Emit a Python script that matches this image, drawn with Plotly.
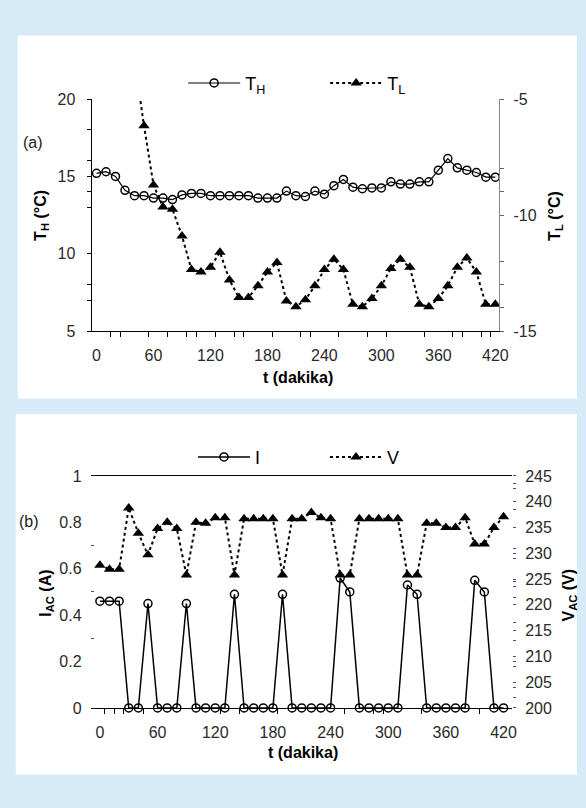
import plotly.graph_objects as go

# ---------------- data ----------------
t_H = list(range(0, 421, 10))
T_H = [15.2, 15.3, 15.0, 14.1, 13.75, 13.75, 13.6, 13.6, 13.5, 13.8,
       13.9, 13.9, 13.75, 13.75, 13.75, 13.75, 13.75, 13.6, 13.6, 13.6,
       14.05, 13.75, 13.7, 14.05, 13.85, 14.4, 14.8, 14.3, 14.2, 14.25,
       14.25, 14.65, 14.5, 14.5, 14.65, 14.65, 15.4, 16.15, 15.55, 15.4,
       15.25, 14.95, 14.95]

t_L = list(range(40, 421, 10))
T_L = [-3.3, -6.15, -8.7, -9.65, -9.75, -10.9, -12.35, -12.45, -12.25, -11.6,
       -12.8, -13.55, -13.55, -13.05, -12.45, -12.05, -13.7, -13.95, -13.65, -13.05,
       -12.35, -11.9, -12.35, -13.85, -13.95, -13.6, -13.05, -12.3, -11.9, -12.25,
       -13.85, -13.95, -13.6, -13.05, -12.25, -11.85, -12.45, -13.85, -13.85]

t_b = list(range(0, 421, 10))
I_AC = [0.46, 0.46, 0.46, 0, 0, 0.45, 0, 0, 0, 0.45,
        0, 0, 0, 0, 0.49, 0, 0, 0, 0, 0.49,
        0, 0, 0, 0, 0, 0.56, 0.50, 0, 0, 0,
        0, 0, 0.53, 0.49, 0, 0, 0, 0, 0, 0.55,
        0.50, 0, 0]
V_AC = [227.7, 226.9, 226.9, 238.8, 233.9, 229.7, 234.8, 236.0, 234.8, 225.8,
        236.0, 235.8, 236.9, 236.9, 225.8, 236.7, 236.7, 236.7, 236.7, 225.8,
        236.7, 236.7, 237.9, 236.9, 236.7, 225.8, 225.8, 236.7, 236.7, 236.7,
        236.7, 236.7, 225.8, 225.8, 235.8, 235.8, 235.0, 235.0, 236.9, 231.8,
        231.8, 235.0, 237.1]

x_ticks = [0, 60, 120, 180, 240, 300, 360, 420]
x_minor_a = [15, 25, 55, 75, 95, 105, 125, 145, 155, 185, 215, 225, 255, 285,
             305, 345, 375, 385, 405, 415]
x_minor_b = [5, 15, 25, 45, 125, 145, 185, 255, 285, 295, 335, 395]
yH_ticks = [5, 10, 15, 20]
yH_minor = [7, 8, 13, 14, 16, 18]
yL_ticks = [-15, -10, -5]
yL_text = ["-15", "-10", "-5"]
yL_minor = [-14, -13, -12, -9, -8]
yI_ticks = [0, 0.2, 0.4, 0.6, 0.8, 1]
yI_text = ["0", "0.2", "0.4", "0.6", "0.8", "1"]
yI_minor = [0.3, 0.5, 0.7]
yV_ticks = list(range(200, 246, 5))
yV_minor = [243.5, 242.5, 238.5, 231, 229, 224.5, 223.5, 221.5, 216.5, 213, 209, 208, 204, 202]

W, H = 586, 808
BG = "rgb(214,234,248)"
FONT = "Liberation Sans, Arial, sans-serif"
TICKC = "#2a2a2a"

def px(x):
    return x / W

def py(y):
    return 1 - y / H

fig = go.Figure()

# ---- panel (a) ----
fig.add_trace(go.Scatter(
    x=t_H, y=T_H, name="T<sub>H</sub>", mode="lines+markers",
    line=dict(color="black", width=1.2),
    marker=dict(symbol="circle-open", size=8, color="black", line=dict(width=1.5)),
    xaxis="x", yaxis="y", legend="legend"))
fig.add_trace(go.Scatter(
    x=t_L, y=T_L, name="T<sub>L</sub>", mode="lines+markers",
    line=dict(color="black", width=2, dash="dot"),
    marker=dict(symbol="triangle-up", size=10, color="black"),
    xaxis="x", yaxis="y2", legend="legend"))

# ---- panel (b) ----
fig.add_trace(go.Scatter(
    x=t_b, y=I_AC, name="I", mode="lines+markers",
    line=dict(color="black", width=1.5),
    marker=dict(symbol="circle-open", size=8, color="black", line=dict(width=1.5)),
    xaxis="x3", yaxis="y3", legend="legend2", cliponaxis=False))
fig.add_trace(go.Scatter(
    x=t_b, y=V_AC, name="V", mode="lines+markers",
    line=dict(color="black", width=2, dash="dot"),
    marker=dict(symbol="triangle-up", size=10, color="black"),
    xaxis="x3", yaxis="y4", legend="legend2", cliponaxis=False))

tickfont = dict(family=FONT, size=16, color=TICKC)

def ann(text, x, y, size=16, angle=0, color="black"):
    return dict(text=text, x=px(x), y=py(y), xref="paper", yref="paper",
                xanchor="center", yanchor="middle", showarrow=False,
                textangle=angle, font=dict(family=FONT, size=size, color=color))

fig.update_layout(
    width=W, height=H,
    margin=dict(l=0, r=0, t=0, b=0),
    paper_bgcolor=BG, plot_bgcolor="rgba(0,0,0,0)",
    font=dict(family=FONT, color="black"),
    showlegend=True,
    xaxis=dict(domain=[px(93), px(507)], anchor="y", range=[-5.2, 424.1],
               showline=True, linecolor="black", linewidth=1, showgrid=False, zeroline=False,
               tickmode="array", tickvals=x_ticks, ticks="", tickfont=tickfont,
               ticklabelstandoff=10,
               minor=dict(tickmode="array", tickvals=x_minor_a, ticks="outside",
                          ticklen=5, tickcolor="black", showgrid=False)),
    yaxis=dict(domain=[py(330), py(93)], anchor="x", range=[5, 20],
               showline=True, linecolor="black", linewidth=1, showgrid=False, zeroline=False,
               tickmode="array", tickvals=yH_ticks, ticks="outside", ticklen=4,
               tickcolor="black", tickfont=tickfont, ticklabelstandoff=8,
               minor=dict(tickmode="array", tickvals=yH_minor, ticks="outside",
                          ticklen=4, tickcolor="black", showgrid=False)),
    yaxis2=dict(overlaying="y", side="right", anchor="x", range=[-15, -5],
                showline=True, linecolor="#888", linewidth=1, showgrid=False, zeroline=False,
                tickmode="array", tickvals=yL_ticks, ticktext=yL_text, ticks="outside",
                ticklen=4, tickcolor="#666", tickfont=tickfont, ticklabelstandoff=6,
                minor=dict(tickmode="array", tickvals=yL_minor, ticks="outside",
                           ticklen=4, tickcolor="#666", showgrid=False)),
    xaxis3=dict(domain=[px(92), px(520)], anchor="y3", range=[-9.7, 428.8],
                showline=True, mirror=True, linecolor="black", linewidth=1,
                showgrid=False, zeroline=False,
                tickmode="array", tickvals=x_ticks, ticks="", tickfont=tickfont,
                ticklabelstandoff=10,
                minor=dict(tickmode="array", tickvals=x_minor_b, ticks="outside",
                           ticklen=5, tickcolor="black", showgrid=False)),
    yaxis3=dict(domain=[py(715), py(478)], anchor="x3", range=[0, 1],
                showline=False, showgrid=False, zeroline=False,
                tickmode="array", tickvals=yI_ticks, ticktext=yI_text, ticks="",
                tickfont=tickfont, ticklabelstandoff=8,
                minor=dict(tickmode="array", tickvals=yI_minor, ticks="inside",
                           ticklen=3, tickcolor="#555", showgrid=False)),
    yaxis4=dict(overlaying="y3", side="right", anchor="x3", range=[200, 245],
                showline=False, showgrid=False, zeroline=False,
                tickmode="array", tickvals=yV_ticks, ticks="outside", ticklen=3,
                tickcolor="#555", tickfont=tickfont, ticklabelstandoff=6,
                minor=dict(tickmode="array", tickvals=yV_minor, ticks="outside",
                           ticklen=3, tickcolor="#555", showgrid=False)),
    legend=dict(x=px(186), y=py(58), xanchor="left", yanchor="top",
                orientation="h", bgcolor="rgba(0,0,0,0)", itemwidth=52,
                entrywidth=75, entrywidthmode="pixels",
                font=dict(family=FONT, size=18, color="black")),
    legend2=dict(x=px(196), y=py(440), xanchor="left", yanchor="top",
                 orientation="h", bgcolor="rgba(0,0,0,0)", itemwidth=52,
                 entrywidth=65, entrywidthmode="pixels",
                 font=dict(family=FONT, size=18, color="black")),
    shapes=[
        dict(type="rect", xref="paper", yref="paper", x0=px(18), x1=1.0,
             y0=py(399), y1=py(28), fillcolor="white", line=dict(width=0), layer="below"),
        dict(type="rect", xref="paper", yref="paper", x0=px(16), x1=1.0,
             y0=py(783), y1=py(415), fillcolor="white", line=dict(width=0), layer="below"),
    ],
    annotations=[
        ann("(a)", 34, 137, color="#222"),
        ann("<b>T<sub>H</sub> (°C)</b>", 42, 212, angle=-90),
        ann("<b>T<sub>L</sub> (°C)</b>", 564, 212, angle=-90),
        ann("<b>t (dakika)</b>", 303, 377),
        ann("(b)", 29, 525, color="#222"),
        ann("<b>I<sub>AC</sub> (A)</b>", 47, 598, angle=-90),
        ann("<b>V<sub>AC</sub> (V)</b>", 578, 600, angle=-90),
        ann("<b>t (dakika)</b>", 308, 761),
    ],
)

fig.write_html("out.html", config={"displayModeBar": False},
               post_script="document.body.style.margin='0';")
